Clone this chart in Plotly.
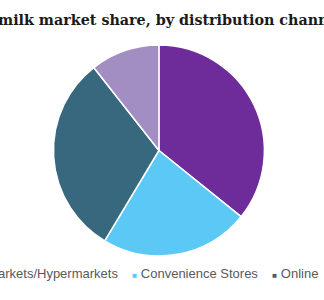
import plotly.graph_objects as go

categories = ["Supermarkets/Hypermarkets", "Convenience Stores", "Online", "Others"]
shares = [35.8, 22.8, 30.8, 10.6]
colors = ["#6E2C9B", "#5BC8F5", "#37687E", "#A38EC4"]
title_text = "milk market share, by distribution channel"

fig = go.Figure()
fig.add_trace(go.Pie(
    labels=categories,
    values=shares,
    marker=dict(colors=colors, line=dict(color="white", width=1.5)),
    sort=False,
    direction="clockwise",
    rotation=0,
    textinfo="none",
    hoverinfo="label+percent",
    showlegend=False,
    domain=dict(x=[0.165, 0.816], y=[0.1467, 0.85]),
))

# legend line built from the categories
gap = "&nbsp;" * 4
parts = []
for name, col in zip(categories, colors):
    parts.append(f"<span style='color:{col};font-size:8px'>■</span>&nbsp;{name}")
legend_text = gap.join(parts)

fig.add_annotation(
    text=legend_text, xref="paper", yref="paper", x=0.5, y=0.087,
    xanchor="center", yanchor="middle", showarrow=False,
    font=dict(family="Liberation Sans, Arial", size=13, color="#595959"),
)
fig.add_annotation(
    text=f"<b>{title_text}</b>", xref="paper", yref="paper", x=0, y=1 - 20 / 300,
    xanchor="left", yanchor="middle", xshift=-4, showarrow=False,
    font=dict(family="DejaVu Serif", size=14.3, color="#1a1a1a"),
)

fig.update_layout(
    width=324, height=300,
    margin=dict(l=0, r=0, t=0, b=0),
    paper_bgcolor="white", plot_bgcolor="white",
)
fig.write_html("out.html", config={"displayModeBar": False})
